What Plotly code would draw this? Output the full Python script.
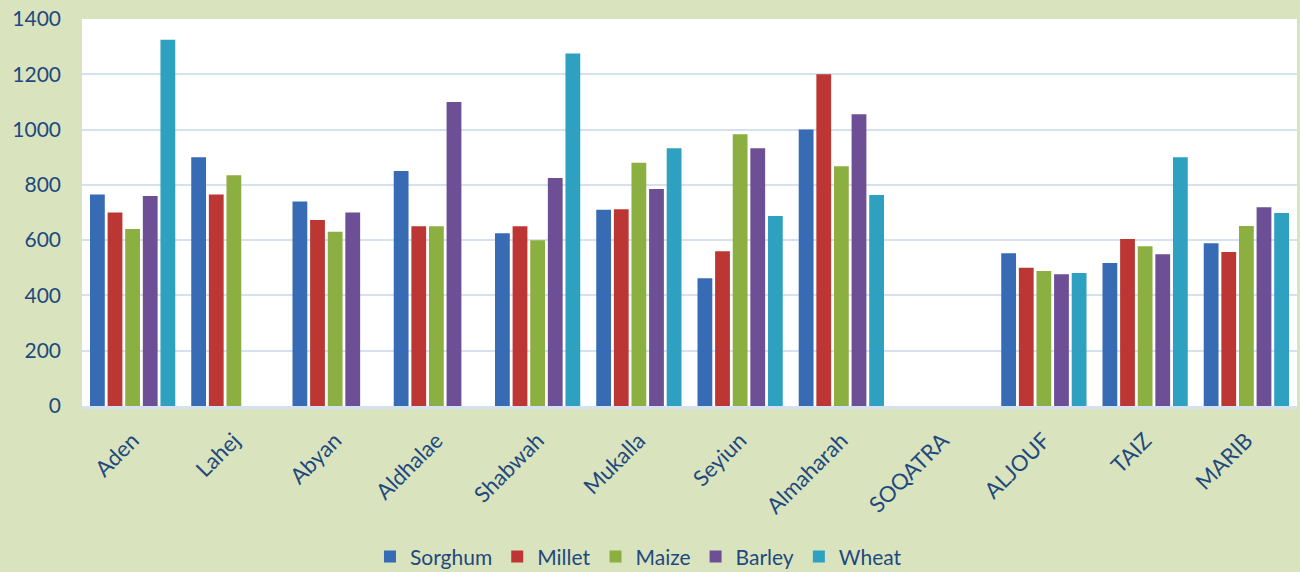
import plotly.graph_objects as go

categories = ["Aden", "Lahej", "Abyan", "Aldhalae", "Shabwah", "Mukalla",
              "Seyiun", "Almaharah", "SOQATRA", "ALJOUF", "TAIZ", "MARIB"]

sorghum = [765, 900, 740, 850, 625, 710, 462, 1000, None, 553, 517, 589]
millet  = [700, 765, 673, 650, 650, 712, 560, 1200, None, 500, 604, 557]
maize   = [640, 835, 630, 650, 600, 880, 983, 867, None, 488, 578, 651]
barley  = [760, None, 700, 1100, 825, 785, 932, 1055, None, 477, 549, 719]
wheat   = [1325, None, None, None, 1275, 932, 687, 763, None, 481, 900, 698]

series = [
    ("Sorghum", sorghum, "#376CB5"),
    ("Millet", millet, "#BC3733"),
    ("Maize", maize, "#8CAF41"),
    ("Barley", barley, "#6D4F96"),
    ("Wheat", wheat, "#2EA1C0"),
]

text_color = "#1F497D"
font_family = "Lato, 'Open Sans', sans-serif"

fig = go.Figure()
for name, vals, color in series:
    fig.add_trace(go.Bar(
        x=categories, y=vals, name=name,
        marker=dict(color=color, line=dict(width=0)),
    ))

fig.update_layout(
    width=1300, height=572,
    barmode="group",
    bargap=0.13,
    bargroupgap=0.16,
    paper_bgcolor="#D9E4BF",
    plot_bgcolor="#FFFFFF",
    margin=dict(l=82, r=3, t=19, b=166, autoexpand=False),
    font=dict(family=font_family, color=text_color),
    legend=dict(
        orientation="h", x=0.458, xanchor="center", y=-0.337, yanchor="top",
        font=dict(size=21, color=text_color), bgcolor="rgba(0,0,0,0)",
        itemwidth=30, traceorder="normal",
    ),
    showlegend=True,
)

fig.update_yaxes(
    range=[0, 1400], dtick=200, tick0=0,
    showgrid=True, gridcolor="#D6E1EF", gridwidth=2,
    zeroline=False, showline=False,
    tickfont=dict(size=21, color=text_color),
    ticklabelstandoff=20, automargin=False,
)
fig.update_xaxes(
    tickangle=-45,
    tickfont=dict(size=22, color=text_color),
    showline=True, linecolor="#D6E1EF", linewidth=3,
    showgrid=False, ticks="",
    ticklabelstandoff=10, automargin=False,
)

fig.write_html(
    "out.html",
    config={"displayModeBar": False},
    post_script="document.body.style.margin='0';document.body.style.background='#D9E4BF';",
)
